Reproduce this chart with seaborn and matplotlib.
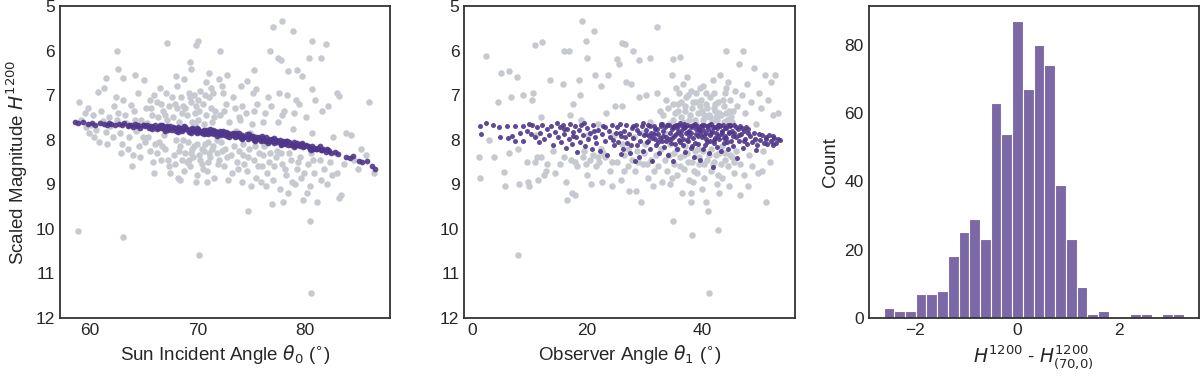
import numpy as np
import pandas as pd
import matplotlib
matplotlib.use('Agg')
import matplotlib.pyplot as plt
import seaborn as sns

# ---- data ----
# panel 1: sun incident angle theta0 vs scaled magnitude (observed = grey, model = purple)
sun_obs = [
    (58.9, 10.05), (63.1, 10.18), (70.2, 10.6), (80.6, 11.45), (80.5, 9.83), (74.7, 9.61),
    (77.1, 5.48), (77.9, 5.33), (78.9, 5.55), (67.2, 5.83), (70.1, 5.79), (69.9, 5.88),
    (62.5, 6.01), (72.1, 6.01), (76.8, 6.01), (80.7, 5.79), (82.0, 5.85), (77.5, 6.16),
    (77.8, 6.22), (80.4, 6.16), (81.5, 6.16), (62.6, 6.41), (69.3, 6.26), (69.4, 6.41),
    (75.3, 6.43), (78.5, 6.46), (79.3, 6.43), (79.8, 6.58), (63.1, 6.61), (61.5, 6.61),
    (64.2, 6.55), (65.0, 6.65), (68.0, 6.58), (68.8, 6.64), (71.1, 6.51), (72.0, 6.64),
    (72.8, 6.55), (74.6, 6.69), (75.5, 6.86), (80.7, 6.86), (83.0, 6.95), (86.0, 7.15),
    (83.2, 7.01), (60.7, 6.94), (61.3, 6.85), (59.0, 7.16), (59.8, 7.30),
    (59.2, 7.55), (59.6, 7.72), (59.9, 7.85), (60.3, 7.45), (60.6, 7.78), (61.0, 7.35),
    (61.2, 7.58), (61.5, 7.82), (61.8, 7.50), (59.5, 7.40), (60.8, 8.05), (61.9, 7.70),
    (60.1, 7.68),
    (62.2, 7.25), (62.5, 7.55), (62.8, 7.85), (63.0, 8.10), (63.3, 7.45), (63.6, 7.95),
    (63.9, 8.60), (64.1, 7.35), (64.3, 7.80), (64.6, 8.15), (64.8, 7.55), (62.4, 7.05),
    (63.1, 7.12), (63.8, 7.22), (64.5, 6.95), (62.9, 8.30), (64.0, 8.35), (64.9, 7.95),
    (63.4, 7.62), (62.1, 7.95),
    (65.2, 7.28), (65.4, 7.95), (65.6, 8.25), (65.8, 7.45), (66.0, 8.75), (66.2, 7.15),
    (66.4, 8.05), (66.6, 8.45), (66.8, 7.35), (67.0, 8.20), (67.2, 7.55), (67.4, 8.60),
    (67.6, 7.05), (67.8, 8.35), (68.0, 8.00), (65.3, 7.62), (65.9, 8.50), (66.3, 7.50),
    (66.9, 7.90), (67.5, 8.75), (68.1, 7.30), (67.1, 6.95), (65.6, 7.10), (66.5, 6.85),
    (68.2, 8.85), (67.7, 7.50), (66.1, 8.10), (67.3, 8.45),
    (68.3, 7.60), (68.4, 8.15), (68.6, 8.45), (68.7, 7.25), (68.9, 8.30), (69.0, 7.45),
    (69.1, 8.05), (69.3, 8.60), (69.4, 7.15), (69.5, 8.20), (69.6, 8.40), (69.8, 7.40),
    (69.9, 8.95), (70.0, 8.10), (70.1, 7.55), (70.2, 8.35), (70.4, 8.55), (70.5, 7.20),
    (70.6, 8.25), (70.8, 7.45), (70.9, 8.70), (71.0, 8.05), (71.1, 7.05), (71.2, 8.40),
    (71.4, 7.60), (71.5, 8.15), (71.6, 8.85), (71.7, 7.35), (71.8, 8.30), (71.9, 8.55),
    (68.5, 7.05), (69.2, 6.95), (69.7, 7.00), (70.3, 6.90), (70.7, 7.00), (71.3, 6.85),
    (68.8, 8.70), (70.0, 8.80), (71.0, 8.50), (69.5, 7.60), (70.6, 7.65), (71.6, 7.50),
    (68.4, 8.90), (70.9, 8.95), (69.9, 7.25), (71.4, 8.20), (69.2, 8.45), (70.4, 8.20),
    (68.7, 8.00), (70.1, 7.10),
    (72.1, 7.45), (72.3, 8.25), (72.5, 8.60), (72.7, 7.20), (72.8, 8.40), (73.0, 7.60),
    (73.2, 8.75), (73.4, 8.15), (73.5, 7.30), (73.7, 8.50), (73.9, 8.25), (74.0, 7.55),
    (74.2, 8.95), (74.3, 8.35), (74.5, 7.40), (74.6, 8.70), (74.8, 8.20), (75.0, 9.05),
    (75.1, 7.65), (75.3, 8.45), (75.5, 8.85), (75.6, 7.20), (75.8, 8.30), (75.9, 8.95),
    (72.4, 6.95), (73.3, 7.05), (74.1, 6.80), (75.2, 6.95), (72.9, 8.90), (74.4, 8.55),
    (75.7, 8.60), (73.6, 7.80), (72.2, 8.05), (74.9, 7.85),
    (76.1, 8.35), (76.3, 7.40), (76.5, 8.75), (76.7, 8.50), (76.9, 7.25), (77.1, 8.90),
    (77.3, 8.40), (77.5, 7.60), (77.7, 9.10), (77.9, 8.55), (78.1, 7.35), (78.3, 8.80),
    (78.5, 9.20), (78.7, 8.45), (78.9, 7.75), (79.1, 9.00), (79.3, 8.65), (79.5, 7.20),
    (79.7, 8.85), (79.9, 9.35), (76.4, 9.05), (77.0, 9.45), (78.0, 9.40), (76.6, 7.05),
    (77.6, 6.95), (78.4, 7.00), (79.2, 7.10), (76.2, 8.15), (77.4, 8.25), (78.6, 8.30),
    (79.6, 8.40),
    (80.1, 7.50), (80.3, 8.55), (80.5, 9.05), (80.7, 7.85), (80.9, 8.75), (81.2, 9.40),
    (81.4, 8.45), (81.6, 7.35), (81.8, 8.65), (82.1, 9.00), (82.4, 8.50), (82.7, 7.95),
    (83.0, 8.75), (83.4, 9.25), (83.7, 8.55), (83.9, 7.85), (80.2, 9.20), (81.0, 7.10),
    (82.2, 7.25), (80.6, 8.30), (84.3, 7.90), (84.6, 8.45), (85.0, 8.65), (85.3, 8.20),
    (85.7, 8.35), (86.5, 8.75), (82.9, 8.30), (83.2, 9.30),
    (66.2, 8.30), (66.7, 8.15), (67.0, 7.45), (67.9, 8.55), (68.3, 8.25), (68.6, 7.40),
    (69.0, 8.50), (69.4, 8.30), (69.7, 8.15), (69.8, 7.65), (70.3, 8.45), (70.5, 8.65),
    (70.7, 8.10), (71.1, 8.30), (71.3, 7.30), (71.8, 8.00), (72.0, 8.45), (72.6, 8.20),
    (73.1, 8.35), (73.8, 8.65), (74.3, 8.10), (74.7, 8.40), (75.4, 8.15), (76.0, 8.60),
    (76.8, 8.30), (77.2, 8.60), (77.8, 8.30), (78.2, 8.65), (78.8, 8.95), (79.4, 8.50),
    (80.0, 8.75), (80.8, 8.45), (81.5, 8.90), (82.6, 8.80), (64.7, 8.40), (65.1, 8.05),
    (63.5, 8.20), (62.6, 7.40), (61.6, 8.10), (60.4, 7.95), (65.7, 7.30), (66.6, 7.20),
    (67.4, 7.25), (68.9, 7.30), (70.2, 7.35), (72.5, 7.35), (73.9, 7.50), (69.3, 7.05),
    (71.5, 6.95), (67.9, 7.20), (74.2, 7.25), (76.1, 7.60), (77.9, 7.45), (79.0, 7.40),
    (72.3, 6.80), (70.8, 6.70), (68.1, 6.80), (66.0, 7.00), (64.2, 7.55), (75.3, 7.35),
]

sun_model = [
    (58.6, 7.60), (58.9, 7.62), (59.3, 7.61), (59.8, 7.64), (60.2, 7.62), (60.5, 7.66),
    (60.9, 7.63), (61.3, 7.65), (61.6, 7.67), (61.8, 7.62), (62.3, 7.66), (62.7, 7.64),
    (63.0, 7.68), (63.2, 7.63), (63.5, 7.70), (63.8, 7.66), (64.0, 7.72), (64.2, 7.65),
    (64.5, 7.68), (64.7, 7.73), (64.9, 7.67), (65.1, 7.70), (65.3, 7.66), (65.5, 7.74),
    (65.7, 7.69), (65.9, 7.72), (66.1, 7.67), (66.2, 7.76), (66.4, 7.71), (66.6, 7.74),
    (66.7, 7.68), (66.9, 7.77), (67.1, 7.72), (67.2, 7.70), (67.4, 7.75), (67.6, 7.78),
    (67.7, 7.71), (67.9, 7.74), (68.0, 7.80), (68.2, 7.72), (68.3, 7.77), (68.5, 7.74),
    (68.6, 7.81), (68.8, 7.75), (68.9, 7.72), (69.1, 7.79), (69.2, 7.83), (69.4, 7.76),
    (69.5, 7.74), (69.7, 7.81), (69.8, 7.78), (70.0, 7.84), (70.1, 7.76), (70.3, 7.80),
    (70.4, 7.86), (70.6, 7.78), (70.7, 7.82), (70.9, 7.79), (71.0, 7.87), (71.2, 7.81),
    (71.3, 7.84), (71.5, 7.79), (71.6, 7.88), (71.8, 7.83), (71.9, 7.86), (72.1, 7.81),
    (72.2, 7.90), (72.4, 7.85), (72.5, 7.88), (72.7, 7.83), (72.8, 7.92), (73.0, 7.87),
    (73.2, 7.90), (73.3, 7.85), (73.5, 7.94), (73.6, 7.88), (73.8, 7.91), (73.9, 7.86),
    (74.1, 7.96), (74.2, 7.90), (74.4, 7.93), (74.6, 7.88), (74.7, 7.98), (74.9, 7.92),
    (75.0, 7.95), (75.2, 7.91), (75.3, 8.00), (75.5, 7.94), (75.6, 7.97), (75.8, 7.93),
    (75.9, 8.02), (76.1, 7.97), (76.2, 8.00), (76.4, 7.95), (76.6, 8.04), (76.7, 7.99),
    (76.9, 8.02), (77.0, 7.98), (77.2, 8.07), (77.3, 8.01), (77.5, 8.04), (77.7, 8.00),
    (77.8, 8.09), (78.0, 8.04), (78.1, 8.07), (78.3, 8.02), (78.5, 8.11), (78.6, 8.06),
    (78.8, 8.09), (79.0, 8.05), (79.1, 8.14), (79.3, 8.08), (79.5, 8.12), (79.7, 8.10),
    (79.9, 8.17), (80.1, 8.12), (80.3, 8.15), (80.5, 8.20), (80.7, 8.14), (80.9, 8.18),
    (81.1, 8.22), (81.3, 8.18), (81.5, 8.24), (81.7, 8.21), (82.0, 8.27), (82.2, 8.23),
    (82.5, 8.30), (82.8, 8.28), (83.1, 8.33), (83.9, 8.38), (84.2, 8.42), (84.5, 8.36),
    (85.1, 8.47), (85.4, 8.50), (85.8, 8.47), (86.3, 8.60), (86.6, 8.66),
    (66.3, 7.73), (66.8, 7.70), (67.3, 7.78), (67.8, 7.73), (68.1, 7.75), (68.4, 7.79),
    (68.7, 7.77), (69.0, 7.75), (69.3, 7.80), (69.6, 7.77), (69.9, 7.82), (70.2, 7.82),
    (70.5, 7.80), (70.8, 7.85), (71.1, 7.83), (71.4, 7.86), (71.7, 7.81), (72.0, 7.87),
    (72.3, 7.83), (72.6, 7.90), (72.9, 7.86), (73.1, 7.88), (73.4, 7.89), (73.7, 7.92),
    (74.0, 7.89), (74.3, 7.95), (74.8, 7.94), (75.1, 7.97), (75.4, 7.96), (75.7, 7.99),
    (76.0, 8.00), (76.3, 8.02), (76.8, 8.03), (77.1, 8.04), (77.4, 8.06), (77.9, 8.07),
    (78.2, 8.09), (78.7, 8.11), (79.2, 8.11), (79.6, 8.14), (80.0, 8.15), (80.4, 8.17),
    (80.8, 8.20), (81.2, 8.20), (81.6, 8.23), (82.3, 8.26), (62.0, 7.64), (63.6, 7.67),
    (64.4, 7.70), (65.0, 7.68), (65.6, 7.71),
    (65.8, 7.75), (66.5, 7.66), (67.0, 7.80), (67.5, 7.69), (68.2, 7.82), (68.8, 7.70),
    (69.4, 7.84), (70.0, 7.74), (70.6, 7.88), (71.2, 7.77), (71.8, 7.91), (72.4, 7.80),
    (73.0, 7.94), (73.6, 7.84), (74.2, 7.98), (74.8, 7.88), (75.4, 8.02), (76.0, 7.92),
    (76.6, 8.07), (77.2, 7.97), (77.8, 8.12), (78.4, 8.03), (79.0, 8.16), (79.8, 8.08),
    (80.6, 8.23), (81.4, 8.15), (82.1, 8.22),
]

# panel 2: observer angle theta1 vs scaled magnitude
obs_obs = [
    (8.0, 10.6), (41.0, 11.45), (34.8, 9.83), (38.1, 10.15), (42.6, 10.03), (19.1, 5.33),
    (32.0, 5.48), (21.1, 5.55), (11.0, 5.87), (12.2, 5.80), (2.4, 6.12), (16.0, 6.00),
    (16.9, 6.00), (26.0, 5.83), (26.6, 5.85), (19.8, 5.78), (28.0, 6.01), (36.0, 6.15),
    (34.9, 6.20), (44.1, 6.00), (47.0, 6.01), (20.0, 6.17), (30.8, 6.17), (25.1, 6.20),
    (29.0, 6.22),
    (1.3, 8.40), (1.5, 8.85), (3.8, 8.40), (4.5, 7.15), (5.0, 6.50), (5.5, 8.72),
    (5.8, 9.05), (6.5, 6.45), (6.8, 7.05), (6.5, 8.30), (7.8, 6.60), (8.2, 9.00),
    (8.8, 7.00), (9.5, 8.50), (9.8, 8.95), (9.9, 9.05), (10.6, 6.95), (11.0, 8.50),
    (11.3, 8.40), (11.5, 8.90), (12.0, 7.50), (12.0, 8.40), (12.8, 8.70), (13.5, 6.65),
    (13.0, 8.55), (14.0, 8.25), (14.5, 8.75), (11.2, 7.90), (12.5, 8.80), (10.5, 7.10),
    (3.0, 8.00), (8.0, 8.20),
    (15.2, 8.55), (15.8, 6.75), (16.3, 8.95), (16.5, 9.35), (17.0, 7.45), (17.3, 9.20),
    (17.5, 7.20), (17.8, 9.25), (18.2, 8.60), (18.5, 6.65), (18.8, 7.00), (19.2, 8.40),
    (19.5, 8.25), (20.0, 8.80), (20.2, 7.90), (20.5, 8.45), (20.7, 9.00), (21.0, 8.35),
    (21.3, 6.55), (21.5, 8.60), (21.8, 7.65), (22.0, 8.50), (22.3, 6.80), (22.6, 8.95),
    (23.0, 8.40), (23.3, 7.40), (23.6, 6.55), (24.0, 8.70), (24.3, 9.05), (24.6, 7.90),
    (16.0, 8.40), (17.8, 8.50), (19.0, 7.55), (22.8, 8.30), (24.8, 7.25),
    (25.2, 8.50), (25.5, 6.30), (25.8, 8.90), (26.1, 7.25), (26.4, 8.35), (26.7, 6.70),
    (27.0, 8.60), (27.3, 9.15), (27.5, 6.75), (27.8, 8.45), (28.1, 7.95), (28.4, 9.15),
    (28.7, 8.25), (29.0, 7.05), (29.3, 9.40), (29.6, 8.55), (29.9, 8.30), (30.2, 7.00),
    (30.5, 8.85), (30.8, 7.60), (31.1, 8.45), (31.4, 9.05), (31.7, 7.85), (32.0, 6.95),
    (32.3, 8.60), (32.6, 7.35), (32.9, 8.95), (26.0, 8.10), (28.3, 8.70), (30.0, 8.10),
    (31.5, 8.70), (32.8, 8.20),
    (33.2, 7.45), (33.4, 8.45), (33.6, 7.10), (33.8, 8.70), (34.0, 7.30), (34.2, 8.35),
    (34.4, 9.00), (34.6, 6.55), (34.8, 7.55), (35.0, 8.55), (35.2, 7.40), (35.4, 6.85),
    (35.6, 8.80), (35.8, 7.20), (36.0, 8.40), (36.2, 7.50), (36.4, 9.20), (36.6, 6.75),
    (36.8, 8.65), (37.0, 7.35), (37.2, 8.30), (37.4, 7.00), (37.6, 8.90), (37.8, 7.45),
    (38.0, 9.40), (38.2, 8.50), (38.4, 7.15), (38.6, 8.25), (38.8, 6.95), (39.0, 8.75),
    (39.2, 7.40), (39.4, 8.40), (39.6, 7.25), (39.8, 9.10), (40.0, 6.80), (40.2, 8.55),
    (40.4, 7.50), (40.6, 9.40), (40.8, 7.30), (41.0, 8.35), (41.2, 7.05), (41.4, 8.70),
    (41.6, 7.60), (41.8, 6.65), (42.0, 8.50), (42.2, 7.35), (42.4, 9.00), (42.6, 7.15),
    (42.8, 8.30), (43.0, 6.55), (43.2, 7.45), (43.4, 8.85), (43.6, 7.25), (43.8, 8.45),
    (44.0, 6.85), (44.2, 7.55), (44.4, 8.60), (44.6, 9.05), (44.8, 7.10), (45.0, 8.40),
    (45.2, 7.35), (45.4, 8.75), (45.6, 6.90), (45.8, 8.25), (34.1, 7.65), (35.3, 7.70),
    (36.5, 7.60), (37.7, 7.55), (38.9, 7.65), (40.1, 7.55), (41.3, 7.50), (42.5, 7.55),
    (43.7, 7.60), (44.9, 7.50), (36.9, 8.15), (39.1, 8.20), (41.5, 8.20), (43.3, 8.15),
    (35.5, 8.20), (38.3, 8.95), (40.3, 8.85), (42.9, 9.20), (37.3, 6.60), (39.5, 6.85),
    (41.9, 6.95), (44.3, 6.70), (40.9, 9.60), (37.9, 9.20), (34.7, 8.85), (42.7, 8.80),
    (46.2, 6.30), (46.5, 8.55), (46.8, 7.00), (47.1, 8.80), (47.4, 7.40), (47.7, 6.75),
    (48.0, 8.35), (48.3, 7.15), (48.6, 8.60), (48.9, 6.40), (49.2, 7.65), (49.5, 8.75),
    (49.8, 6.95), (50.1, 7.30), (50.4, 8.25), (50.7, 6.55), (51.0, 9.40), (51.3, 7.10),
    (51.6, 8.50), (51.9, 6.70), (52.2, 7.45), (52.6, 6.55), (53.0, 7.40), (46.4, 9.25),
    (47.9, 9.05), (49.0, 8.00), (50.2, 8.70), (52.0, 8.05),
    (33.5, 7.85), (34.3, 8.10), (34.9, 7.20), (35.1, 8.30), (35.7, 7.35), (36.1, 8.60),
    (36.3, 7.15), (36.7, 8.35), (37.1, 7.05), (37.5, 8.50), (38.1, 7.30), (38.5, 8.70),
    (38.7, 7.55), (39.3, 8.55), (39.7, 7.10), (40.0, 8.25), (40.5, 7.20), (40.7, 8.45),
    (41.1, 7.45), (41.7, 8.55), (42.1, 7.20), (42.3, 8.35), (42.8, 7.40), (43.1, 8.55),
    (43.5, 7.10), (43.9, 8.30), (44.5, 7.35), (44.7, 8.35), (45.1, 7.60), (45.5, 8.50),
    (45.9, 7.25), (39.9, 7.35), (41.9, 7.30), (37.9, 6.90), (38.9, 7.15), (40.6, 6.95),
    (43.9, 6.95), (36.9, 7.25), (35.9, 6.95), (40.2, 7.45), (42.3, 7.50), (44.1, 7.40),
    (30.4, 8.55), (31.9, 8.35), (28.8, 8.50), (27.1, 8.20), (24.2, 8.50), (21.9, 8.40),
    (19.8, 8.55), (17.2, 8.45), (22.4, 8.20), (26.3, 8.70), (29.5, 7.85),
]

obs_model = [
    (1.5, 7.69), (1.6, 7.87), (2.5, 7.63), (3.7, 7.67), (4.8, 7.72), (4.9, 7.95),
    (6.1, 7.69), (6.3, 7.97), (7.5, 7.70), (7.5, 8.02), (8.3, 7.85), (8.8, 7.69),
    (8.9, 8.02), (9.6, 7.80), (10.2, 7.87), (10.5, 7.66), (11.0, 7.95), (11.3, 7.72),
    (11.8, 7.84), (12.2, 7.68), (12.5, 7.98), (13.0, 7.75), (13.4, 7.90), (13.8, 7.70),
    (14.1, 8.12), (9.9, 7.65), (11.6, 8.05), (7.0, 7.92),
    (14.5, 7.82), (14.8, 7.62), (15.0, 7.95), (15.3, 7.72), (15.5, 8.05), (15.8, 7.66),
    (16.0, 7.88), (16.3, 8.18), (16.5, 7.75), (16.8, 7.98), (17.0, 7.64), (17.3, 8.10),
    (17.5, 7.82), (17.8, 7.70), (18.0, 7.95), (18.3, 8.28), (18.5, 7.78), (18.8, 8.05),
    (19.0, 7.66), (19.3, 7.90), (19.6, 8.15), (19.9, 7.74), (20.2, 7.98), (20.5, 7.84),
    (20.8, 8.20), (21.0, 7.68), (21.3, 7.93), (21.6, 8.08), (21.9, 7.78), (22.2, 8.25),
    (22.5, 7.88), (22.8, 7.70), (23.1, 8.02), (23.4, 8.35), (23.7, 7.80), (24.0, 7.95),
    (24.3, 7.66), (24.6, 8.12), (24.9, 7.86), (15.9, 7.77), (17.6, 7.92), (19.5, 7.62),
    (21.2, 7.80), (23.0, 7.72), (24.4, 8.00),
    (25.2, 7.72), (25.4, 8.05), (25.7, 7.64), (25.9, 7.92), (26.2, 8.20), (26.4, 7.80),
    (26.7, 7.68), (26.9, 8.08), (27.2, 7.88), (27.4, 8.30), (27.7, 7.74), (27.9, 7.96),
    (28.2, 8.48), (28.4, 7.66), (28.7, 8.12), (28.9, 7.84), (29.2, 8.02), (29.4, 7.70),
    (29.7, 8.25), (29.9, 7.90), (25.6, 7.85), (26.6, 7.95), (27.6, 8.12), (28.6, 7.78),
    (29.6, 7.62), (25.9, 8.32), (28.0, 7.70), (29.0, 8.38),
    (30.1, 7.78), (30.3, 8.05), (30.5, 7.66), (30.7, 7.92), (30.9, 8.22), (31.1, 7.84),
    (31.3, 8.48), (31.5, 7.70), (31.7, 7.98), (31.9, 8.12), (32.1, 7.75), (32.3, 7.88),
    (32.5, 8.30), (32.7, 7.64), (32.9, 8.02), (33.1, 7.80), (33.3, 8.16), (33.5, 7.72),
    (33.7, 7.95), (33.9, 8.35), (34.1, 7.68), (34.3, 7.86), (34.5, 8.08), (34.7, 7.76),
    (34.9, 8.48), (35.1, 7.92), (35.3, 7.66), (35.5, 8.20), (35.7, 7.82), (35.9, 8.00),
    (36.1, 7.62), (36.3, 7.90), (36.5, 8.12), (36.7, 7.74), (36.9, 8.28), (37.1, 7.86),
    (37.3, 7.68), (37.5, 8.04), (37.7, 7.80), (37.9, 8.18), (38.1, 7.72), (38.3, 7.96),
    (38.5, 8.38), (38.7, 7.64), (38.9, 7.88), (39.1, 8.10), (39.3, 7.78), (39.5, 8.46),
    (39.7, 7.70), (39.9, 7.94), (40.1, 8.22), (40.3, 7.66), (40.5, 7.84), (40.7, 8.06),
    (40.9, 7.76), (41.1, 8.30), (41.3, 7.90), (41.5, 7.64), (41.7, 8.62), (41.9, 8.00),
    (42.1, 7.72), (42.3, 7.86), (42.5, 8.16), (42.7, 7.68), (42.9, 7.98), (43.1, 8.26),
    (43.3, 7.80), (43.5, 7.66), (43.7, 8.08), (43.9, 7.92), (44.1, 7.74), (44.3, 8.20),
    (44.5, 7.86), (44.7, 7.70), (44.9, 8.02), (45.1, 7.80), (45.3, 8.14), (45.5, 7.66),
    (45.7, 7.94), (45.9, 8.42), (46.1, 7.76), (46.3, 8.04), (46.5, 7.70), (46.7, 7.88),
    (46.9, 8.18), (47.1, 7.80), (47.3, 7.98), (47.5, 7.72), (47.7, 8.10), (47.9, 7.86),
    (30.6, 8.02), (31.6, 7.88), (32.6, 7.96), (33.6, 8.04), (34.6, 7.96), (35.6, 7.74),
    (36.6, 7.98), (37.6, 7.92), (38.6, 8.08), (39.6, 7.84), (40.6, 7.98), (41.6, 7.80),
    (42.6, 7.92), (43.6, 7.96), (44.6, 7.82), (35.0, 7.70), (37.0, 7.72), (39.0, 7.70),
    (41.0, 7.68), (43.0, 7.70), (36.0, 8.06), (38.0, 7.84), (40.0, 7.78), (42.0, 8.08),
    (44.0, 7.96),
    (48.2, 7.92), (48.5, 8.06), (48.8, 7.84), (49.1, 7.98), (49.4, 8.12), (49.7, 7.88),
    (50.0, 8.00), (50.3, 7.90), (50.6, 8.08), (50.9, 7.94), (51.2, 8.10), (51.5, 7.90),
    (51.8, 8.04), (52.1, 8.12), (52.4, 7.96), (52.7, 8.08), (53.0, 7.98), (53.3, 8.00),
    (49.2, 8.24), (51.0, 7.98), (52.2, 7.92),
    (30.2, 7.88), (30.8, 7.70), (31.2, 7.96), (31.8, 7.76), (32.2, 8.06), (32.8, 7.70),
    (33.2, 7.92), (33.8, 7.66), (34.2, 7.98), (34.8, 7.72), (35.2, 8.10), (35.8, 7.68),
    (36.2, 7.80), (36.8, 7.64), (37.2, 8.00), (37.8, 7.70), (38.2, 8.14), (38.8, 7.76),
    (39.2, 7.92), (39.8, 7.66), (40.2, 7.90), (40.8, 7.70), (41.2, 8.04), (41.8, 7.72),
    (42.2, 7.96), (42.8, 7.66), (43.2, 7.88), (43.8, 7.74), (44.2, 8.06), (44.8, 7.68),
    (45.2, 7.92), (45.8, 7.72), (46.2, 7.90), (46.8, 7.74), (47.2, 8.02), (47.8, 7.76),
    (33.0, 7.64), (35.4, 7.88), (37.4, 7.82), (39.4, 7.76), (41.4, 7.86), (43.4, 7.82),
    (45.4, 7.84), (36.4, 7.70), (38.4, 7.68), (40.4, 8.12), (42.4, 7.74), (44.4, 7.66),
]

# panel 3: histogram of H1200 - H1200(70,0)
hist_start = -2.616
hist_width = 0.21
hist_counts = [3, 2, 2, 7, 7, 8, 18, 25, 29, 23, 63, 54, 87, 67,
               80, 74, 39, 23, 9, 1, 2, 0, 0, 1, 1, 0, 1, 1]

grey = '#c6c9d0'
purple = '#50368a'

sns.set_theme(style="white")
plt.rcParams['font.family'] = ['Liberation Sans', 'DejaVu Sans']
plt.rcParams['axes.edgecolor'] = '#333333'
plt.rcParams['axes.linewidth'] = 1.3

sun_obs_df = pd.DataFrame(sun_obs, columns=['theta0', 'H'])
sun_mod_df = pd.DataFrame(sun_model, columns=['theta0', 'H'])
obs_obs_df = pd.DataFrame(obs_obs, columns=['theta1', 'H'])
obs_mod_df = pd.DataFrame(obs_model, columns=['theta1', 'H'])

edges = hist_start + hist_width * np.arange(len(hist_counts) + 1)
hist_df = pd.DataFrame({'dH': (edges[:-1] + edges[1:]) / 2, 'n': hist_counts})

label_size = 13.5
tick_size = 12.5

fig, axes = plt.subplots(1, 3, figsize=(12, 3.77), dpi=100)
fig.subplots_adjust(left=0.05, right=0.999, top=0.984, bottom=0.157, wspace=0.224)

ax = axes[0]
sns.scatterplot(data=sun_obs_df, x='theta0', y='H', color=grey, s=22, linewidth=0, ax=ax)
sns.scatterplot(data=sun_mod_df, x='theta0', y='H', color=purple, s=17, linewidth=0, alpha=0.9, ax=ax)
ax.set_ylim(12, 5)
ax.set_xticks([60, 70, 80])
ax.set_xlabel(r'Sun Incident Angle $\theta_0$ ($^{\circ}$)', fontsize=label_size)
ax.set_ylabel(r'Scaled Magnitude $H^{1200}$', fontsize=label_size)

ax = axes[1]
sns.scatterplot(data=obs_obs_df, x='theta1', y='H', color=grey, s=22, linewidth=0, ax=ax)
sns.scatterplot(data=obs_mod_df, x='theta1', y='H', color=purple, s=13, linewidth=0, alpha=0.9, ax=ax)
ax.set_ylim(12, 5)
ax.set_xticks([0, 20, 40])
ax.set_xlabel(r'Observer Angle $\theta_1$ ($^{\circ}$)', fontsize=label_size)
ax.set_ylabel('')

ax = axes[2]
sns.histplot(data=hist_df, x='dH', weights='n', bins=edges.tolist(), color=purple,
             edgecolor='white', linewidth=0.8, alpha=0.75, ax=ax)
ax.set_xticks([-2, 0, 2])
ax.set_yticks([0, 20, 40, 60, 80])
ax.set_xlabel(r'$H^{1200}$ - $H^{1200}_{(70{,}0)}$', fontsize=label_size)
ax.set_ylabel('Count', fontsize=label_size)

for ax in axes:
    ax.tick_params(labelsize=tick_size, length=0)

plt.savefig('out.png', dpi=100)
plt.close()
